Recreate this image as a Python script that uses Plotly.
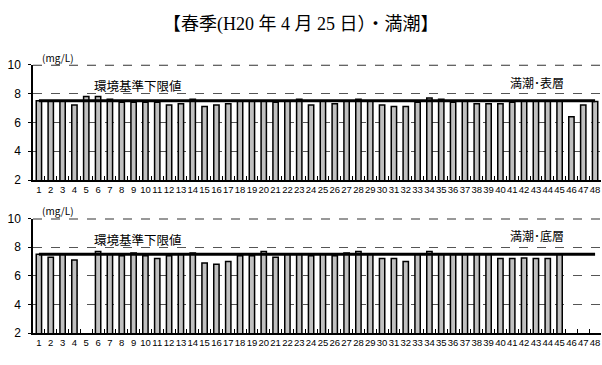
import plotly.graph_objects as go

W, H = 602, 365

stations = [str(i) for i in range(1, 49)]

surface_do = [7.5, 7.5, 7.5, 7.2, 7.8, 7.8, 7.6, 7.4, 7.4, 7.4,
              7.4, 7.2, 7.3, 7.6, 7.1, 7.2, 7.3, 7.5, 7.5, 7.5,
              7.4, 7.5, 7.6, 7.2, 7.5, 7.3, 7.5, 7.6, 7.5, 7.2,
              7.1, 7.1, 7.4, 7.7, 7.6, 7.4, 7.5, 7.3, 7.3, 7.3,
              7.4, 7.5, 7.5, 7.5, 7.5, 6.4, 7.2, 7.45]

bottom_do = [7.5, 7.3, 7.5, 7.1, None, 7.7, 7.5, 7.4, 7.6, 7.4,
             7.2, 7.4, 7.5, 7.6, 6.9, 6.8, 7.0, 7.4, 7.4, 7.7,
             7.3, 7.5, 7.5, 7.4, 7.5, 7.4, 7.6, 7.7, 7.5, 7.2,
             7.2, 7.0, 7.5, 7.7, 7.5, 7.5, 7.5, 7.5, 7.5, 7.2,
             7.2, 7.25, 7.2, 7.2, 7.5, None, None, None]

standard_limit = 7.5

y_ticks = [2, 4, 6, 8, 10]

title_text = "【春季(H20 年 4 月 25 日）・満潮】"


def px_x(p):
    return p / W


def px_y(p):
    return 1 - p / H


fig = go.Figure()

for xa, ya, vals in [("x", "y", surface_do), ("x2", "y2", bottom_do)]:
    fig.add_trace(go.Bar(
        x=stations, y=vals, xaxis=xa, yaxis=ya,
        marker=dict(color="#c0c0c0", line=dict(color="black", width=1.5)),
        width=0.45, base=0,
        hoverinfo="x+y", showlegend=False,
    ))
    fig.add_trace(go.Scatter(
        x=stations, y=[standard_limit] * len(stations), xaxis=xa, yaxis=ya,
        mode="lines", line=dict(color="black", width=3),
        hoverinfo="skip", showlegend=False,
    ))

x_common = dict(
    type="category", showgrid=False, zeroline=False,
    showline=True, linecolor="black", linewidth=2,
    ticks="inside", ticklen=4, tickcolor="black", tickwidth=1,
    tickson="boundaries", tickangle=0,
    tickfont=dict(family="Arial, Liberation Sans", size=9.5, color="black"),
    domain=[px_x(33), px_x(601)],
    range=[-0.5, 47.5],
)
y_common = dict(
    range=[2, 10], tickvals=y_ticks, showgrid=True,
    gridcolor="#555555", griddash="dash", gridwidth=1,
    zeroline=False, showline=True, linecolor="black", linewidth=1.5,
    ticks="outside", ticklen=3, tickcolor="black", ticklabelstandoff=5,
    tickfont=dict(family="Arial, Liberation Sans", size=12, color="black"),
)

fig.update_layout(
    width=W, height=H,
    margin=dict(l=0, r=0, t=0, b=0),
    plot_bgcolor="white", paper_bgcolor="white",
    barmode="overlay",
    xaxis=dict(x_common, anchor="y"),
    yaxis=dict(y_common, domain=[px_y(180), px_y(60)], anchor="x"),
    xaxis2=dict(x_common, anchor="y2"),
    yaxis2=dict(y_common, domain=[px_y(339), px_y(220)], anchor="x2"),
)

annotations = [
    dict(x=0.5, y=px_y(18), text=title_text,
         font=dict(family="Liberation Serif, Noto Sans CJK JP", size=18)),
    dict(x=px_x(58), y=px_y(52), text="(mg/L)", font=dict(size=10)),
    dict(x=px_x(58), y=px_y(212), text="(mg/L)", font=dict(size=10)),
    dict(x=px_x(138), y=px_y(82), text="環境基準下限値", font=dict(size=12.5)),
    dict(x=px_x(138), y=px_y(242), text="環境基準下限値", font=dict(size=12.5)),
    dict(x=px_x(537), y=px_y(78), text="満潮･表層", font=dict(size=12)),
    dict(x=px_x(537), y=px_y(238), text="満潮･底層", font=dict(size=12)),
]
for a in annotations:
    a.setdefault("font", {})
    a["font"].setdefault("family", "Noto Sans CJK JP, Arial")
    a["font"]["color"] = "black"
    fig.add_annotation(xref="paper", yref="paper", showarrow=False,
                       xanchor="center", yanchor="middle", **a)

# dashed top border at 10 for both panels
for yref in ["y", "y2"]:
    fig.add_shape(type="line", xref="paper", yref=yref,
                  x0=px_x(33), x1=px_x(601), y0=10, y1=10,
                  line=dict(color="#333333", width=2, dash="dash"))

fig.write_html(
    "out.html",
    config={"displayModeBar": False},
    post_script="document.body.style.margin='0';document.body.style.overflow='hidden';",
)
